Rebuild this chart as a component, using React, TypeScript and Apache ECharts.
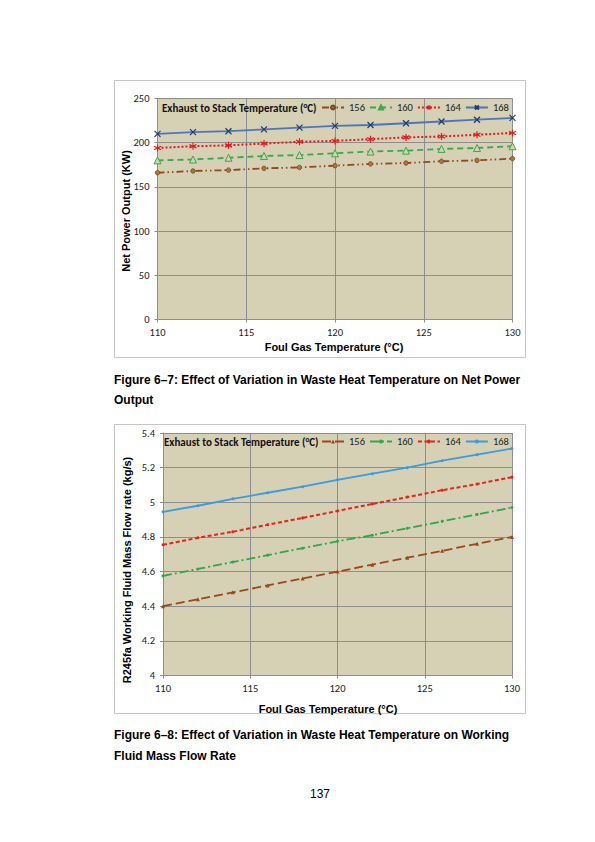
import React, { useEffect, useRef } from "react";
import * as echarts from "echarts";

// ---------- data ----------
const gasTemps = [110, 112, 114, 116, 118, 120, 122, 124, 126, 128, 130];
const stackTemps = ["156", "160", "164", "168"];

const power156 = [166, 168, 169, 171, 172, 174, 176, 177, 179, 180, 182];
const power160 = [180, 181, 183, 185, 186, 188, 190, 191, 193, 194, 196];
const power164 = [194, 196, 197, 199, 201, 202, 204, 206, 207, 209, 211];
const power168 = [210, 212, 213, 215, 217, 219, 220, 222, 224, 226, 228];

const flow156 = [4.4, 4.44, 4.48, 4.52, 4.56, 4.6, 4.64, 4.68, 4.72, 4.76, 4.8];
const flow160 = [4.575, 4.615, 4.655, 4.695, 4.735, 4.775, 4.81, 4.85, 4.89, 4.93, 4.97];
const flow164 = [4.755, 4.795, 4.83, 4.87, 4.91, 4.95, 4.99, 5.03, 5.07, 5.105, 5.145];
const flow168 = [4.945, 4.98, 5.02, 5.055, 5.09, 5.13, 5.165, 5.2, 5.24, 5.275, 5.31];

const powerAxis = { min: 0, max: 250, interval: 50 };
const flowAxis = { min: 4, max: 5.4, interval: 0.2 };
const gasAxis = { min: 110, max: 130, interval: 5 };

const legendTitle = "Exhaust to Stack Temperature (°C)";
const xName = "Foul Gas Temperature (°C)";
const yName1 = "Net Power Output (KW)";
const yName2 = "R245fa Working Fluid Mass Flow rate (kg/s)";
const caption1 = ["Figure 6–7: Effect of Variation in Waste Heat Temperature on Net Power", "Output"];
const caption2 = ["Figure 6–8: Effect of Variation in Waste Heat Temperature on Working", "Fluid Mass Flow Rate"];
const pageNo = "137";

// ---------- styles ----------
const BG = "#d6d1b5";
const GRIDC = "#8e8e8e";
const CAL = "Carlito, Lato, 'Open Sans', sans-serif";
const ARIAL = "'Liberation Sans', Arial, sans-serif";

const STAR = "path://M5,0L5,10M0.7,2.5L9.3,7.5M9.3,2.5L0.7,7.5";
const XMARK = "path://M0,0L10,10M10,0L0,10";

const zip = (ys: number[]) => gasTemps.map((x, i) => [x, ys[i]]);

function axisX(gridIndex: number) {
  return {
    gridIndex,
    type: "value",
    ...gasAxis,
    axisLine: { show: true, onZero: false, lineStyle: { color: GRIDC } },
    axisTick: { show: true, length: 3, lineStyle: { color: GRIDC } },
    axisLabel: { margin: 7, fontSize: 10.5, color: "#222", fontFamily: CAL },
    splitLine: { show: true, lineStyle: { color: GRIDC, width: 1 } },
  };
}

function axisY(gridIndex: number, range: any, fmt: (v: number) => string) {
  return {
    gridIndex,
    type: "value",
    ...range,
    axisLine: { show: true, lineStyle: { color: GRIDC } },
    axisTick: { show: true, length: 3, lineStyle: { color: GRIDC } },
    axisLabel: { margin: 8, fontSize: 10.5, color: "#222", fontFamily: CAL, formatter: fmt },
    splitLine: { show: true, lineStyle: { color: GRIDC, width: 1 } },
  };
}

export default function App() {
  const ref = useRef<HTMLDivElement>(null);
  useEffect(() => {
    if (!ref.current) return;
    const chart = echarts.init(ref.current, undefined, { renderer: "svg" });

    const p = (n: string) => "Power " + n;
    const f = (n: string) => "Flow " + n;

    const series: any[] = [
      {
        name: p(stackTemps[0]), type: "line", xAxisIndex: 0, yAxisIndex: 0, data: zip(power156),
        symbol: "circle", symbolSize: 4.5,
        lineStyle: { color: "#8b4a1e", width: 1.8, type: [7, 3, 1.5, 3, 1.5, 3] },
        itemStyle: { color: "#a8763e", borderColor: "#7b4a1c", borderWidth: 0.8 },
      },
      {
        name: p(stackTemps[1]), type: "line", xAxisIndex: 0, yAxisIndex: 0, data: zip(power160),
        symbol: "triangle", symbolSize: 7,
        lineStyle: { color: "#3aa84a", width: 1.8, type: [6, 4] },
        itemStyle: { color: BG, borderColor: "#3aa84a", borderWidth: 1 },
      },
      {
        name: p(stackTemps[2]), type: "line", xAxisIndex: 0, yAxisIndex: 0, data: zip(power164),
        symbol: STAR, symbolSize: 7,
        lineStyle: { color: "#e41a1c", width: 2, type: [2, 2] },
        itemStyle: { color: "#e41a1c", borderColor: "#e41a1c", borderWidth: 1.2 },
      },
      {
        name: p(stackTemps[3]), type: "line", xAxisIndex: 0, yAxisIndex: 0, data: zip(power168),
        symbol: XMARK, symbolSize: 6,
        lineStyle: { color: "#4f75b5", width: 1.8, type: "solid" },
        itemStyle: { color: "#1f3a6e", borderColor: "#1f3a6e", borderWidth: 1.2 },
      },
      {
        name: f(stackTemps[0]), type: "line", xAxisIndex: 1, yAxisIndex: 1, data: zip(flow156),
        symbol: "triangle", symbolSize: 4,
        lineStyle: { color: "#98481a", width: 1.8, type: [9, 4] },
        itemStyle: { color: "#98481a" },
      },
      {
        name: f(stackTemps[1]), type: "line", xAxisIndex: 1, yAxisIndex: 1, data: zip(flow160),
        symbol: "circle", symbolSize: 3,
        lineStyle: { color: "#2ea84a", width: 1.8, type: [9, 3, 2, 3] },
        itemStyle: { color: "#2ea84a" },
      },
      {
        name: f(stackTemps[2]), type: "line", xAxisIndex: 1, yAxisIndex: 1, data: zip(flow164),
        symbol: "circle", symbolSize: 3,
        lineStyle: { color: "#e5231b", width: 2, type: [4, 2.5] },
        itemStyle: { color: "#e5231b" },
      },
      {
        name: f(stackTemps[3]), type: "line", xAxisIndex: 1, yAxisIndex: 1, data: zip(flow168),
        symbol: "circle", symbolSize: 3,
        lineStyle: { color: "#3b9be0", width: 1.8, type: "solid" },
        itemStyle: { color: "#3b9be0" },
      },
    ];

    const legendCommon = {
      orient: "horizontal",
      itemWidth: 22,
      itemHeight: 5,
      itemGap: 4,
      padding: 0,
      selectedMode: false,
      textStyle: { fontSize: 10.5, color: "#222", fontFamily: CAL },
      formatter: (n: string) => n.replace(/^(Power|Flow) /, ""),
    };

    const nameStyle = { fontSize: 11, fontWeight: "bold", fontFamily: ARIAL, fill: "#000" };
    const capStyle = { fontSize: 12, fontWeight: "bold", fontFamily: ARIAL, fill: "#000" };
    const legTitleStyle = { fontSize: 11, fontWeight: "bold", fontFamily: CAL, fill: "#111", verticalAlign: "middle" };

    const graphic: any[] = [
      { type: "rect", shape: { x: 114.5, y: 80.5, width: 411, height: 277 }, style: { fill: "none", stroke: "#c6c6c6", lineWidth: 1 }, z: -1 },
      { type: "rect", shape: { x: 114.5, y: 424.5, width: 411, height: 289 }, style: { fill: "none", stroke: "#c6c6c6", lineWidth: 1 }, z: -1 },
      { type: "text", x: 162, y: 108, z: 10, style: { ...legTitleStyle, text: legendTitle } },
      { type: "text", x: 164, y: 442, z: 10, style: { ...legTitleStyle, text: legendTitle } },
      { type: "text", x: 334, y: 347, style: { ...nameStyle, text: xName, align: "center", verticalAlign: "middle" } },
      { type: "text", x: 328, y: 709, style: { ...nameStyle, text: xName, align: "center", verticalAlign: "middle" } },
      { type: "text", x: 126, y: 211, rotation: Math.PI / 2, style: { ...nameStyle, text: yName1, align: "center", verticalAlign: "middle" } },
      { type: "text", x: 126.5, y: 570, rotation: Math.PI / 2, style: { ...nameStyle, text: yName2, align: "center", verticalAlign: "middle" } },
      { type: "text", x: 114, y: 380, style: { ...capStyle, text: caption1[0], verticalAlign: "middle" } },
      { type: "text", x: 114, y: 399.5, style: { ...capStyle, text: caption1[1], verticalAlign: "middle" } },
      { type: "text", x: 114, y: 735, style: { ...capStyle, text: caption2[0], verticalAlign: "middle" } },
      { type: "text", x: 114, y: 755.5, style: { ...capStyle, text: caption2[1], verticalAlign: "middle" } },
      { type: "text", x: 320, y: 794, style: { fontSize: 12, fontFamily: ARIAL, fill: "#000", text: pageNo, align: "center", verticalAlign: "middle" } },
    ];

    const option: any = {
      animation: false,
      backgroundColor: "#ffffff",
      grid: [
        { left: 157.5, top: 98.5, width: 355, height: 221, show: true, backgroundColor: BG, borderWidth: 0 },
        { left: 163, top: 433, width: 349, height: 242.5, show: true, backgroundColor: BG, borderWidth: 0 },
      ],
      xAxis: [axisX(0), axisX(1)],
      yAxis: [
        axisY(0, powerAxis, (v: number) => String(Math.round(v))),
        axisY(1, flowAxis, (v: number) => String(Math.round(v * 10) / 10)),
      ],
      legend: [
        { ...legendCommon, left: 321, top: 102, data: stackTemps.map(p) },
        { ...legendCommon, left: 321, top: 436, data: stackTemps.map(f) },
      ],
      series,
      graphic,
    };

    chart.setOption(option);
    return () => chart.dispose();
  }, []);

  return (
    <div
      ref={ref}
      style={{ position: "absolute", left: 0, top: 0, width: 595, height: 842, background: "#fff" }}
    />
  );
}
